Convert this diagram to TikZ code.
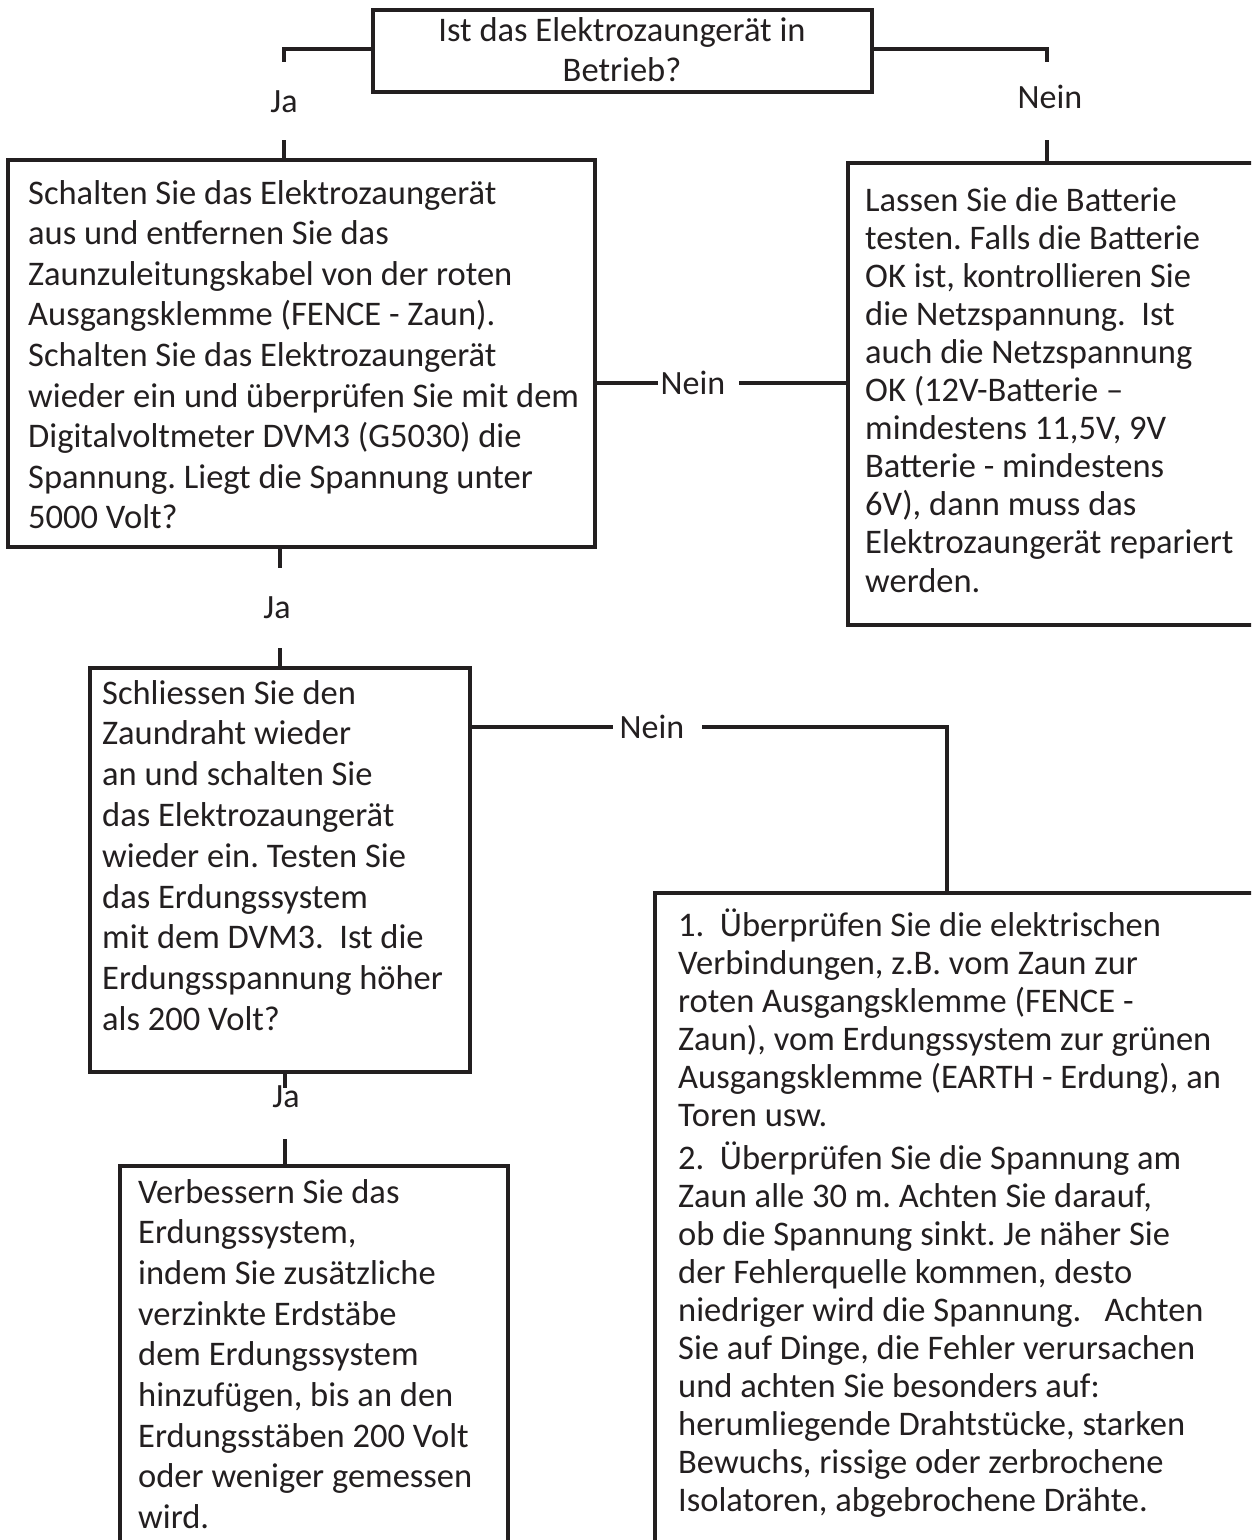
\documentclass[tikz,border=0pt]{standalone}
\usepackage{fontspec}
\setmainfont{Carlito}
\definecolor{ink}{RGB}{35,31,32}
\frenchspacing
\begin{document}
\frenchspacing
\begin{tikzpicture}[x=1pt,y=-1pt,
  box/.style={draw=ink, line width=4.5pt, inner sep=0pt, outer sep=0pt, anchor=north west},
  conn/.style={draw=ink, line width=4.5pt},
  txt/.style={text=ink, align=left, text width=640pt, inner sep=0pt, anchor=base west,
    execute at begin node={\spaceskip=0pt\xspaceskip=0pt}},
  lab/.style={text=ink, inner sep=0pt, font=\fontsize{34}{40}\selectfont}]
\useasboundingbox (0,0) rectangle (1251,1540);
\clip (0,0) rectangle (1251,1540);
\fill[white] (0,0) rectangle (1251,1540);
% boxes
\node[box, minimum width=499pt, minimum height=82pt] (q) at (373,10) {};
\node[box, minimum width=587pt, minimum height=387pt] (b1) at (8,160) {};
\node[box, minimum width=420pt, minimum height=462pt] (b2) at (848,163) {};
\node[box, minimum width=380pt, minimum height=404pt] (b3) at (90,668) {};
\node[box, minimum width=620pt, minimum height=700pt] (b4) at (655,893) {};
\node[box, minimum width=388pt, minimum height=420pt] (b5) at (120,1166) {};
% texts
\node[text=ink, align=center, inner sep=0pt, anchor=base, font=\fontsize{34.5}{40}\selectfont] (tq) at (622,81)
  {Ist das Elektrozaungerät in\\Betrieb?};
\node[txt, font=\fontsize{34.5}{40.6}\selectfont] (t1) at (28,204) {Schalten Sie das Elektrozaungerät\\
aus und entfernen Sie das\\
Zaunzuleitungskabel von der roten\\
Ausgangsklemme (FENCE - Zaun).\\
Schalten Sie das Elektrozaungerät\\
wieder ein und überprüfen Sie mit dem\\
Digitalvoltmeter DVM3 (G5030) die\\
Spannung. Liegt die Spannung unter\\
5000 Volt?};
\node[txt, font=\fontsize{34.5}{38.1}\selectfont] (t2) at (865,211) {Lassen Sie die Batterie\\
testen. Falls die Batterie\\
OK ist, kontrollieren Sie\\
die Netzspannung.~ Ist\\
auch die Netzspannung\\
OK (12V-Batterie –\\
mindestens 11,5V, 9V\\
Batterie - mindestens\\
6V), dann muss das\\
Elektrozaungerät repariert\\
werden.};
\node[txt, font=\fontsize{34.5}{40.8}\selectfont] (t3) at (102,704) {Schliessen Sie den\\
Zaundraht wieder\\
an und schalten Sie\\
das Elektrozaungerät\\
wieder ein. Testen Sie\\
das Erdungssystem\\
mit dem DVM3.~ Ist die\\
Erdungsspannung höher\\
als 200 Volt?};
\node[txt, font=\fontsize{34.5}{38}\selectfont] (t4) at (678,936) {1.~ Überprüfen Sie die elektrischen\\
Verbindungen, z.B. vom Zaun zur\\
roten Ausgangsklemme (FENCE -\\
Zaun), vom Erdungssystem zur grünen\\
Ausgangsklemme (EARTH - Erdung), an\\
Toren usw.\\[5pt]
2.~ Überprüfen Sie die Spannung am\\
Zaun alle 30 m. Achten Sie darauf,\\
ob die Spannung sinkt. Je näher Sie\\
der Fehlerquelle kommen, desto\\
niedriger wird die Spannung.~~ Achten\\
Sie auf Dinge, die Fehler verursachen\\
und achten Sie besonders auf:\\
herumliegende Drahtstücke, starken\\
Bewuchs, rissige oder zerbrochene\\
Isolatoren, abgebrochene Drähte.};
\node[txt, font=\fontsize{34.5}{40.7}\selectfont] (t5) at (138,1203) {Verbessern Sie das\\
Erdungssystem,\\
indem Sie zusätzliche\\
verzinkte Erdstäbe\\
dem Erdungssystem\\
hinzufügen, bis an den\\
Erdungsstäben 200 Volt\\
oder weniger gemessen\\
wird.};
% labels
\node[lab] (ja1) at (284,102) {Ja};
\node[lab] (ne1) at (1050,97) {Nein};
\node[lab] (ne2) at (693,383) {Nein};
\node[lab] (ja2) at (277,608) {Ja};
\node[lab] (ne3) at (652,727) {Nein};
\node[lab] (ja3) at (286,1097) {Ja};
% connectors
\coordinate (e1) at (284,62);
\coordinate (e2) at (1047,62);
\draw[conn] (q.west |- 0,49) -| (e1);
\draw[conn] (q.east |- 0,49) -| (e2);
\draw[conn] (b1.north -| ja1) ++(0,-20) -- (b1.north -| ja1);
\draw[conn] (b2.north -| 1047,0) ++(0,-23) -- (b2.north -| 1047,0);
\draw[conn] (b1.east |- ne2) -- ([xshift=-3pt]ne2.west);
\draw[conn] ([xshift=14pt]ne2.east) -- (b2.west |- ne2);
\draw[conn] (b1.south -| 280,0) -- ++(0,21);
\draw[conn] (b3.north -| 280,0) ++(0,-20) -- (b3.north -| 280,0);
\draw[conn] (b3.east |- ne3) -- ([xshift=-7pt]ne3.west);
\draw[conn] ([xshift=18pt]ne3.east) -| (b4.north -| 947,0);
\draw[conn] (b3.south -| 285,0) -- ++(0,16);
\draw[conn] (b5.north -| 285,0) ++(0,-27) -- (b5.north -| 285,0);
\end{tikzpicture}
\end{document}
